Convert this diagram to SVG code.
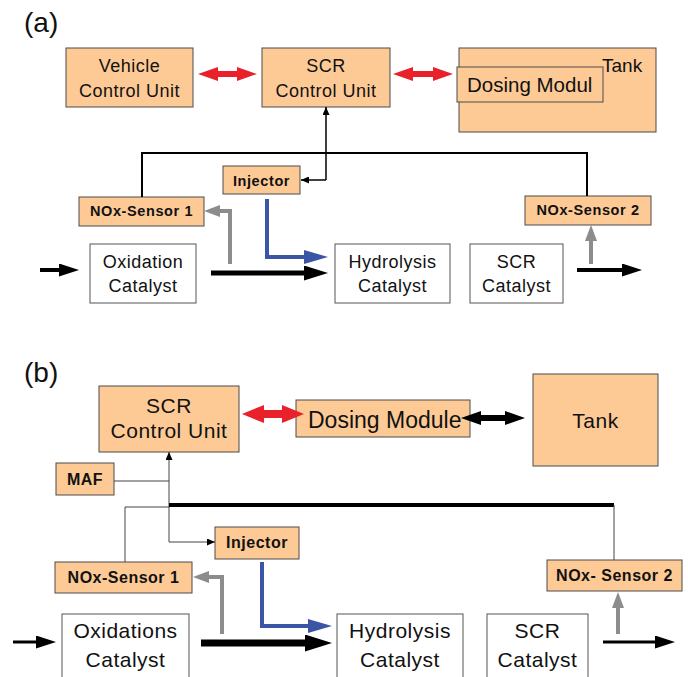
<svg xmlns="http://www.w3.org/2000/svg" width="688" height="677" viewBox="0 0 688 677">
<style>
.o{fill:#fdca96;stroke:#4a4a4a;stroke-width:1}
.w{fill:#fff;stroke:#555;stroke-width:1}
text{font-family:"Liberation Sans",Arial,sans-serif;fill:#111}
.ta{font-size:18px;letter-spacing:0.5px;text-anchor:middle}
.tb{font-size:21px;letter-spacing:0.5px;text-anchor:middle}
.ba{font-size:14.5px;font-weight:bold;letter-spacing:0.6px;text-anchor:middle}
.bb{font-size:16px;font-weight:bold;letter-spacing:0.5px;text-anchor:middle}
.lbl{font-size:28px}
.thin{fill:none;stroke:#000;stroke-width:1.5}
.thn{fill:none;stroke:#444;stroke-width:1}
.bus{fill:none;stroke:#000;stroke-width:2}
.gr{fill:none;stroke:#8c8c8c;stroke-width:4}
.bl{fill:none;stroke:#3b55a6;stroke-width:4}
.bk{fill:none;stroke:#000}
</style>
<defs>
<marker id="hk1" markerUnits="userSpaceOnUse" markerWidth="24" markerHeight="15" refX="4" refY="7.5" orient="auto"><path d="M0,0 L24,7.5 L0,15 z" fill="#000"/></marker>
<marker id="hk2" markerUnits="userSpaceOnUse" markerWidth="27" markerHeight="17" refX="4" refY="8.5" orient="auto"><path d="M0,0 L27,8.5 L0,17 z" fill="#000"/></marker>
<marker id="hk3" markerUnits="userSpaceOnUse" markerWidth="20" markerHeight="13" refX="4" refY="6.5" orient="auto"><path d="M0,0 L20,6.5 L0,13 z" fill="#000"/></marker>
<marker id="hbl" markerUnits="userSpaceOnUse" markerWidth="24" markerHeight="14" refX="4" refY="7" orient="auto"><path d="M0,0 L24,7 L0,14 z" fill="#3b55a6"/></marker>
<marker id="hgr" markerUnits="userSpaceOnUse" markerWidth="16" markerHeight="12" refX="4" refY="6" orient="auto"><path d="M0,0 L16,6 L0,12 z" fill="#8c8c8c"/></marker>
<marker id="hsm" markerUnits="userSpaceOnUse" markerWidth="8" markerHeight="7" refX="8" refY="3.5" orient="auto"><path d="M0,0 L8,3.5 L0,7 z" fill="#000"/></marker>
</defs>

<text class="lbl" x="24" y="32">(a)</text>
<text class="lbl" x="24" y="382">(b)</text>

<!-- Panel (a) nodes -->
<g id="a-vcu"><rect class="o" x="66" y="48" width="127" height="59"/><text class="ta" x="129.5" y="72">Vehicle</text><text class="ta" x="129.5" y="97">Control Unit</text></g>
<g id="a-scrcu"><rect class="o" x="262" y="48" width="128" height="59"/><text class="ta" x="326" y="72">SCR</text><text class="ta" x="326" y="97">Control Unit</text></g>
<g id="a-tank"><rect class="o" x="459" y="48" width="197" height="84"/><text x="602" y="72" font-size="19">Tank</text></g>
<g id="a-dosing"><rect class="o" x="457" y="67" width="146" height="35"/><text x="467" y="92" font-size="20.5">Dosing Modul</text></g>
<g id="a-injector"><rect class="o" x="223" y="166" width="77" height="28"/><text class="ba" x="261.5" y="186">Injector</text></g>
<g id="a-nox1"><rect class="o" x="79" y="197" width="125" height="29"/><text class="ba" x="141.5" y="216">NOx-Sensor 1</text></g>
<g id="a-nox2"><rect class="o" x="525" y="196" width="126" height="29"/><text class="ba" x="588" y="215">NOx-Sensor 2</text></g>
<g id="a-oxi"><rect class="w" x="90" y="244" width="106" height="59"/><text class="ta" x="143" y="268">Oxidation</text><text class="ta" x="143" y="292">Catalyst</text></g>
<g id="a-hyd"><rect class="w" x="335" y="244" width="115" height="59"/><text class="ta" x="392.5" y="268">Hydrolysis</text><text class="ta" x="392.5" y="292">Catalyst</text></g>
<g id="a-scrcat"><rect class="w" x="470" y="244" width="93" height="59"/><text class="ta" x="516.5" y="268">SCR</text><text class="ta" x="516.5" y="292">Catalyst</text></g>

<!-- Panel (b) nodes -->
<g id="b-scrcu"><rect class="o" x="99" y="386" width="140" height="66"/><text class="tb" x="169" y="413">SCR</text><text class="tb" x="169" y="438">Control Unit</text></g>
<g id="b-dosing"><rect class="o" x="296" y="400" width="174" height="37"/><text x="308" y="428" font-size="23">Dosing Module</text></g>
<g id="b-tank"><rect class="o" x="533" y="374" width="125" height="92"/><text class="tb" x="595.5" y="428">Tank</text></g>
<g id="b-maf"><rect class="o" x="56" y="463" width="58" height="32"/><text class="bb" x="85" y="485">MAF</text></g>
<g id="b-injector"><rect class="o" x="215" y="527" width="84" height="32"/><text class="bb" x="257" y="548">Injector</text></g>
<g id="b-nox1"><rect class="o" x="55" y="562" width="137" height="31"/><text class="bb" x="123.5" y="583">NOx-Sensor 1</text></g>
<g id="b-nox2"><rect class="o" x="547" y="560" width="135" height="31"/><text class="bb" x="614.5" y="581">NOx- Sensor 2</text></g>
<g id="b-oxi"><rect class="w" x="62" y="614" width="127" height="75"/><text class="tb" x="125.5" y="638">Oxidations</text><text class="tb" x="125.5" y="667">Catalyst</text></g>
<g id="b-hyd"><rect class="w" x="337" y="614" width="126" height="75"/><text class="tb" x="400" y="638">Hydrolysis</text><text class="tb" x="400" y="667">Catalyst</text></g>
<g id="b-scrcat"><rect class="w" x="487" y="614" width="101" height="75"/><text class="tb" x="537.5" y="638">SCR</text><text class="tb" x="537.5" y="667">Catalyst</text></g>

<g id="connectors">
<!-- (a) -->
<polygon fill="#e8212a" points="198,74 218,67 218,71 237,71 237,67 257,74 237,81 237,77 218,77 218,81"/>
<polygon fill="#e8212a" points="393,74 413,67 413,71 433,71 433,67 453,74 433,81 433,77 413,77 413,81"/>
<path class="bus" d="M142,197 V153 H587 V196"/>
<path class="thin" d="M326,180 V107" marker-end="url(#hsm)"/>
<path class="thin" d="M326,180 H301" marker-end="url(#hsm)"/>
<polyline class="gr" points="230,264 230,211 216,211" marker-end="url(#hgr)"/>
<polyline class="gr" points="591,264 591,237" marker-end="url(#hgr)"/>
<polyline class="bl" points="267,199 267,257 308,257" marker-end="url(#hbl)"/>
<line class="bk" stroke-width="5" x1="211" y1="273" x2="308" y2="273" marker-end="url(#hk1)"/>
<line class="bk" stroke-width="4" x1="40" y1="270" x2="63" y2="270" marker-end="url(#hk3)"/>
<line class="bk" stroke-width="4" x1="577" y1="270" x2="626" y2="270" marker-end="url(#hk3)"/>
<!-- (b) -->
<polygon fill="#e8212a" points="242,414 264,405 264,410 282,410 282,405 304,414 282,423 282,418 264,418 264,423"/>
<polygon fill="#000" points="461,418 481,411 481,415 505,415 505,411 525,418 505,425 505,421 481,421 481,425"/>
<path class="thn" d="M114,481 H169"/>
<path class="thn" d="M169,542 V452" marker-end="url(#hsm)"/>
<path class="thn" d="M169,542 H215" marker-end="url(#hsm)"/>
<path class="thn" d="M125,562 V507 H169"/>
<line class="bk" stroke-width="4" x1="169" y1="505" x2="614" y2="505"/>
<path class="thn" d="M614,505 V560"/>
<polyline class="gr" points="222,634 222,577 205,577" marker-end="url(#hgr)"/>
<polyline class="gr" points="618,634 618,604" marker-end="url(#hgr)"/>
<polyline class="bl" points="262,562 262,626 312,626" marker-end="url(#hbl)"/>
<line class="bk" stroke-width="7" x1="201" y1="643" x2="309" y2="643" marker-end="url(#hk2)"/>
<line class="bk" stroke-width="3" x1="13" y1="642" x2="40" y2="642" marker-end="url(#hk3)"/>
<line class="bk" stroke-width="3" x1="603" y1="642" x2="659" y2="642" marker-end="url(#hk3)"/>
</g>
</svg>
